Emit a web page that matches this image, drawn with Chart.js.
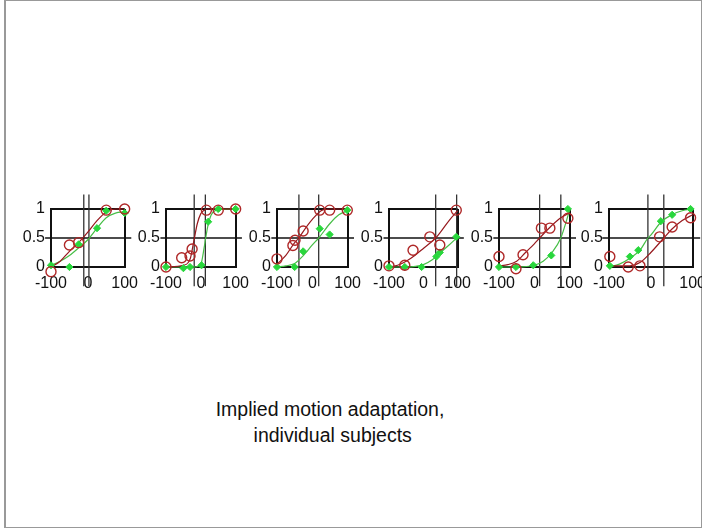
<!DOCTYPE html>
<html>
<head>
<meta charset="utf-8">
<script src="https://cdn.jsdelivr.net/npm/chart.js@4"></script>
<style>
  html, body { margin: 0; padding: 0; background: #fff; }
  body { width: 702px; height: 529px; position: relative; overflow: hidden; font-family: "Liberation Sans", Arial, sans-serif; }
  .frame { position: absolute; left: 4px; top: 0px; width: 695px; height: 526px; border: 1px solid #999; border-left: 2px solid #999; }
  .panel { position: absolute; }
  .caption { position: absolute; left: 0; width: 660px; top: 396px; text-align: center; font-size: 19.5px; line-height: 26px; color: #111; white-space: pre; }
</style>
</head>
<body>
<div class="frame"></div>
<div class="caption">Implied motion adaptation,
 individual subjects</div>

<script>
// ---- tick labels ----
const xTicks = [-100, 0, 100];
const yTicks = [0, 0.5, 1];
const yTickLabels = ["0", "0.5", "1"];

// ---- observed proportions (red = open circles, green = filled markers), per subject ----
const s1RedX = [-100, -50, -25, 50, 100];
const s1RedY = [-0.08, 0.38, 0.42, 0.98, 1.0];
const s1GreenX = [-100, -50, -25, 25, 50, 100];
const s1GreenY = [0.03, 0.0, 0.39, 0.67, 0.97, 0.93];

const s2RedX = [-100, -55, -31, -25, 16, 50, 100];
const s2RedY = [0.0, 0.16, 0.19, 0.31, 0.98, 0.98, 1.0];
const s2GreenX = [-100, -50, -31, 2, 21, 50, 100];
const s2GreenY = [0.0, -0.02, 0.0, 0.03, 0.78, 1.0, 1.0];

const s3RedX = [-100, -55, -49, -26, 21, 49, 99];
const s3RedY = [0.14, 0.37, 0.46, 0.62, 0.98, 0.98, 0.98];
const s3GreenX = [-100, -50, -26, 21, 49, 99];
const s3GreenY = [0.0, 0.0, 0.27, 0.66, 0.56, 0.98];

const s4RedX = [-100, -54, -30, 19, 48, 96];
const s4RedY = [0.02, 0.03, 0.29, 0.52, 0.38, 0.98];
const s4GreenX = [-100, -54, -5, 38, 48, 96];
const s4GreenY = [0.0, 0.0, 0.0, 0.18, 0.25, 0.52];

const s5RedX = [-100, -52, -32, 20, 44, 95];
const s5RedY = [0.18, -0.03, 0.21, 0.67, 0.67, 0.84];
const s5GreenX = [-100, -52, -3, 48, 95];
const s5GreenY = [0.0, 0.0, 0.03, 0.2, 1.0];

const s6RedX = [-98, -54, -26, 21, 51, 95];
const s6RedY = [0.18, 0.0, 0.02, 0.52, 0.69, 0.85];
const s6GreenX = [-98, -50, -30, 24, 51, 95];
const s6GreenY = [0.02, 0.18, 0.29, 0.79, 0.9, 1.0];

// ---- fitted psychometric curves ----
const s1RedFitX = [-100, -75, -50, -25, 0, 25, 50, 75, 100];
const s1RedFitY = [0.0, 0.1, 0.27, 0.42, 0.6, 0.8, 0.95, 1.0, 1.0];
const s1GreenFitX = [-100, -75, -50, -25, 0, 25, 50, 75, 100];
const s1GreenFitY = [0.03, 0.1, 0.2, 0.33, 0.47, 0.67, 0.85, 0.93, 0.95];

const s2RedFitX = [-100, -50, -30, -20, -10, 0, 10, 20, 100];
const s2RedFitY = [0.0, 0.03, 0.15, 0.45, 0.75, 0.92, 0.98, 1.0, 1.0];
const s2GreenFitX = [-100, -20, 0, 10, 14, 20, 30, 50, 100];
const s2GreenFitY = [0.0, 0.0, 0.05, 0.35, 0.5, 0.7, 0.9, 0.99, 1.0];

const s3RedFitX = [-100, -75, -50, -38, -25, 0, 25, 50, 100];
const s3RedFitY = [0.05, 0.2, 0.42, 0.5, 0.62, 0.82, 0.97, 1.0, 1.0];
const s3GreenFitX = [-100, -75, -50, -25, 0, 18, 50, 75, 100];
const s3GreenFitY = [0.0, 0.02, 0.06, 0.2, 0.38, 0.5, 0.75, 0.9, 0.97];

const s4RedFitX = [-100, -75, -50, -25, 0, 36, 50, 75, 100];
const s4RedFitY = [0.0, 0.03, 0.1, 0.2, 0.32, 0.5, 0.6, 0.8, 0.97];
const s4GreenFitX = [-100, -50, 0, 25, 50, 75, 97];
const s4GreenFitY = [0.0, 0.0, 0.04, 0.12, 0.25, 0.38, 0.5];

const s5RedFitX = [-100, -75, -50, -25, 0, 15, 50, 75, 100];
const s5RedFitY = [0.02, 0.04, 0.1, 0.25, 0.4, 0.5, 0.72, 0.85, 0.93];
const s5GreenFitX = [-100, -50, 0, 25, 50, 75, 100];
const s5GreenFitY = [0.0, 0.0, 0.03, 0.1, 0.25, 0.5, 0.98];

const s6RedFitX = [-100, -50, -25, 0, 31, 50, 75, 100];
const s6RedFitY = [0.02, 0.02, 0.08, 0.25, 0.5, 0.65, 0.8, 0.9];
const s6GreenFitX = [-100, -75, -50, -25, -7, 0, 25, 50, 75, 100];
const s6GreenFitY = [0.0, 0.05, 0.15, 0.3, 0.5, 0.55, 0.78, 0.9, 0.97, 1.0];

// ---- points of subjective equality (vertical lines) ----
const redPSE = [-11, -19, -38, 36, 15, 31];
const greenPSE = [3, 13, 18, 97, 75, -7];

// reference level and line extents (data units)
const refLevel = 0.5;
const refLineX = [-116, 118];
const pseLineY = [-0.33, 1.25];

// ---- layout of the six small panels (pixels) ----
const boxLeft = [51, 166, 277, 389, 499, 609];
const boxRight = [125, 236, 348, 458, 570, 693];
const boxTop = 209, boxBottom = 267;
const padL = 45, padT = 20, padR = 20, padB = 30;

const RED = "rgb(175,40,40)";
const RED_LINE = "rgb(150,25,30)";
const GREEN = "rgb(40,215,60)";
const GREEN_LINE = "rgb(70,190,70)";
const INK = "#111";

const subjects = [
  [s1RedX, s1RedY, s1GreenX, s1GreenY, s1RedFitX, s1RedFitY, s1GreenFitX, s1GreenFitY],
  [s2RedX, s2RedY, s2GreenX, s2GreenY, s2RedFitX, s2RedFitY, s2GreenFitX, s2GreenFitY],
  [s3RedX, s3RedY, s3GreenX, s3GreenY, s3RedFitX, s3RedFitY, s3GreenFitX, s3GreenFitY],
  [s4RedX, s4RedY, s4GreenX, s4GreenY, s4RedFitX, s4RedFitY, s4GreenFitX, s4GreenFitY],
  [s5RedX, s5RedY, s5GreenX, s5GreenY, s5RedFitX, s5RedFitY, s5GreenFitX, s5GreenFitY],
  [s6RedX, s6RedY, s6GreenX, s6GreenY, s6RedFitX, s6RedFitY, s6GreenFitX, s6GreenFitY]
];

const zip = (xs, ys) => xs.map((x, i) => ({ x: x, y: ys[i] }));

subjects.forEach((s, i) => {
  const div = document.createElement("div");
  div.className = "panel";
  const w = boxRight[i] - boxLeft[i] + padL + padR;
  const h = boxBottom - boxTop + padT + padB;
  div.style.left = (boxLeft[i] - padL) + "px";
  div.style.top = (boxTop - padT) + "px";
  div.style.width = w + "px";
  div.style.height = h + "px";
  const cv = document.createElement("canvas");
  div.appendChild(cv);
  document.body.appendChild(div);

  new Chart(cv, {
    type: "line",
    data: {
      datasets: [
        { data: zip(s[0], s[1]), showLine: false, pointStyle: "circle", pointRadius: 5,
          borderColor: RED, backgroundColor: "rgba(0,0,0,0)", pointBorderWidth: 1.4, clip: false, order: 1 },
        { data: zip(s[2], s[3]), showLine: false, pointStyle: "rectRot", pointRadius: 3.6,
          borderColor: GREEN, backgroundColor: GREEN, pointBorderWidth: 1, clip: false, order: 2 },
        { data: zip(s[4], s[5]), borderColor: RED_LINE, borderWidth: 1.2, pointRadius: 0,
          cubicInterpolationMode: "monotone", clip: false, order: 3 },
        { data: zip(s[6], s[7]), borderColor: GREEN_LINE, borderWidth: 1.2, pointRadius: 0,
          cubicInterpolationMode: "monotone", clip: false, order: 4 },
        { data: refLineX.map(x => ({ x: x, y: refLevel })), borderColor: INK, borderWidth: 1.5,
          pointRadius: 0, clip: false, order: 5 },
        { data: pseLineY.map(y => ({ x: redPSE[i], y: y })), borderColor: "#333", borderWidth: 1.3,
          pointRadius: 0, clip: false, order: 6 },
        { data: pseLineY.map(y => ({ x: greenPSE[i], y: y })), borderColor: "#333", borderWidth: 1.3,
          pointRadius: 0, clip: false, order: 7 }
      ]
    },
    options: {
      responsive: true,
      maintainAspectRatio: false,
      animation: false,
      events: [],
      layout: { padding: { left: 0, top: padT, right: padR, bottom: 0 } },
      plugins: { legend: { display: false }, tooltip: { enabled: false } },
      scales: {
        x: {
          type: "linear", min: -100, max: 100,
          afterFit: sc => { sc.height = padB; },
          afterBuildTicks: sc => { sc.ticks = xTicks.map(v => ({ value: v })); },
          ticks: { autoSkip: false, maxRotation: 0, padding: 7, color: INK,
                   font: { family: "'Liberation Sans', Arial, sans-serif", size: 16 },
                   callback: v => String(v) },
          grid: { drawTicks: false, lineWidth: 2,
                  color: c => (c.tick && c.tick.value === 0) ? "rgba(0,0,0,0)" : INK },
          border: { display: true, color: INK, width: 2 }
        },
        y: {
          type: "linear", min: 0, max: 1,
          afterFit: sc => { sc.width = padL; },
          afterBuildTicks: sc => { sc.ticks = yTicks.map(v => ({ value: v })); },
          ticks: { autoSkip: false, padding: 6, color: INK,
                   font: { family: "'Liberation Sans', Arial, sans-serif", size: 16 },
                   callback: v => yTickLabels[yTicks.indexOf(v)] },
          grid: { drawTicks: false, lineWidth: 2,
                  color: c => (c.tick && c.tick.value === refLevel) ? "rgba(0,0,0,0)" : INK },
          border: { display: true, color: INK, width: 2 }
        }
      }
    }
  });
});
</script>
</body>
</html>
